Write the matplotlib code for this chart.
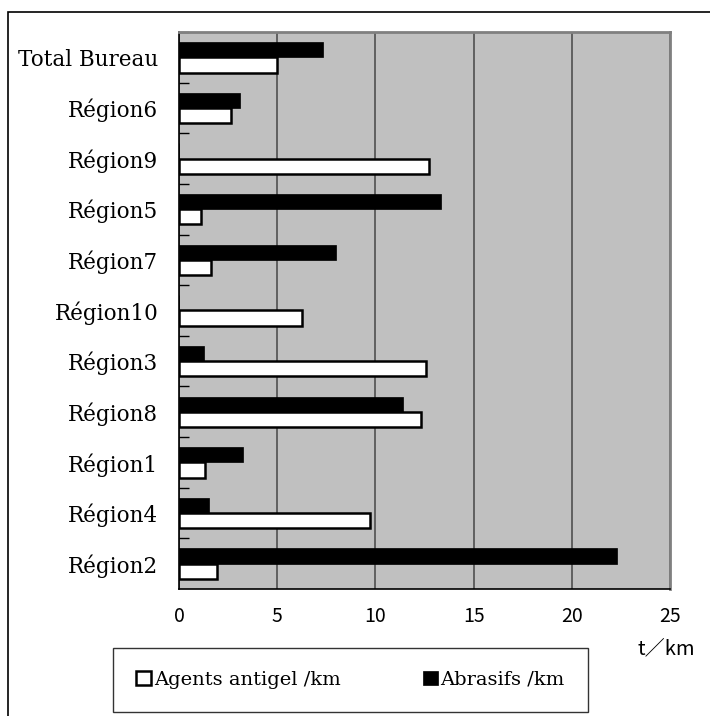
import matplotlib
matplotlib.use("Agg")
import matplotlib.pyplot as plt
from matplotlib.patches import Patch, Rectangle
import numpy as np

# Data (top to bottom as displayed)
categories = ["Total Bureau", "Région6", "Région9", "Région5", "Région7", "Région10",
              "Région3", "Région8", "Région1", "Région4", "Région2"]
antigel = [5.0, 2.63, 12.73, 1.12, 1.65, 6.26, 12.58, 12.32, 1.32, 9.71, 1.95]
abrasifs = [7.33, 3.09, 0.0, 13.34, 7.98, 0.0, 1.27, 11.4, 3.24, 1.53, 22.32]
xticks = [0, 5, 10, 15, 20, 25]
series_labels = ["Agents antigel /km", "Abrasifs /km"]
x_unit = "t／km"

W, H = 710, 716
fig = plt.figure(figsize=(W / 100, H / 100), dpi=100)
fig.patch.set_facecolor("white")

# outer frame (top and left visible)
fig.add_artist(Rectangle((8 / W, -0.01), 1.2, 1 - 12 / H + 0.01, transform=fig.transFigure,
                         fill=False, edgecolor="black", linewidth=1.2))

ax = fig.add_axes([179 / W, 1 - 589 / H, 491 / W, 557 / H])
ax.set_facecolor("#c0c0c0")

n = len(categories)
y = np.arange(n)  # 0 at top
h = 0.3
ax.barh(y - 0.15, abrasifs, height=h, color="black", edgecolor="black", linewidth=0.5, zorder=3)
ax.barh(y + 0.15, antigel, height=h, color="white", edgecolor="black", linewidth=1.8, zorder=3)

ax.set_ylim(n - 0.5, -0.5)
ax.set_xlim(0, 25)
ax.set_yticks(y)
ax.set_yticklabels(categories, fontsize=15.5, family="DejaVu Serif")
ax.set_yticks(np.arange(-0.5, n, 1.0)[:-1], minor=True)
ax.tick_params(axis="y", which="major", length=0, pad=15)
ax.tick_params(axis="y", which="minor", length=7, direction="in", color="black", width=1)

ax.set_xticks(xticks)
ax.set_xticklabels([str(t) for t in xticks], fontsize=14, family=["Noto Sans CJK JP", "DejaVu Sans"])
ax.tick_params(axis="x", length=0, pad=12)

ax.grid(axis="x", color="#505050", linewidth=1.2, zorder=1)
ax.set_axisbelow(True)

for s in ["top", "right"]:
    ax.spines[s].set_color("#808080")
    ax.spines[s].set_linewidth(2)
for s in ["left", "bottom"]:
    ax.spines[s].set_color("black")
    ax.spines[s].set_linewidth(1.2)

fig.text(666 / W, 1 - 649 / H, x_unit, fontsize=14.5, family=["Noto Sans CJK JP", "DejaVu Sans"],
         ha="center", va="center")

handles = [Patch(facecolor="white", edgecolor="black", linewidth=1.8),
           Patch(facecolor="black", edgecolor="black", linewidth=0.5)]
leg = fig.legend(handles, series_labels, loc="center", ncol=2, mode="expand",
                 bbox_to_anchor=(113 / W, 1 - 711 / H, 475 / W, 62 / H),
                 prop={"family": "DejaVu Serif", "size": 14},
                 handlelength=0.75, handleheight=0.75, handletextpad=0.15,
                 borderpad=1.2, borderaxespad=0, fancybox=False, frameon=True)
leg.get_frame().set_edgecolor("black")
leg.get_frame().set_linewidth(1.0)

fig.savefig("out.png", dpi=100)
